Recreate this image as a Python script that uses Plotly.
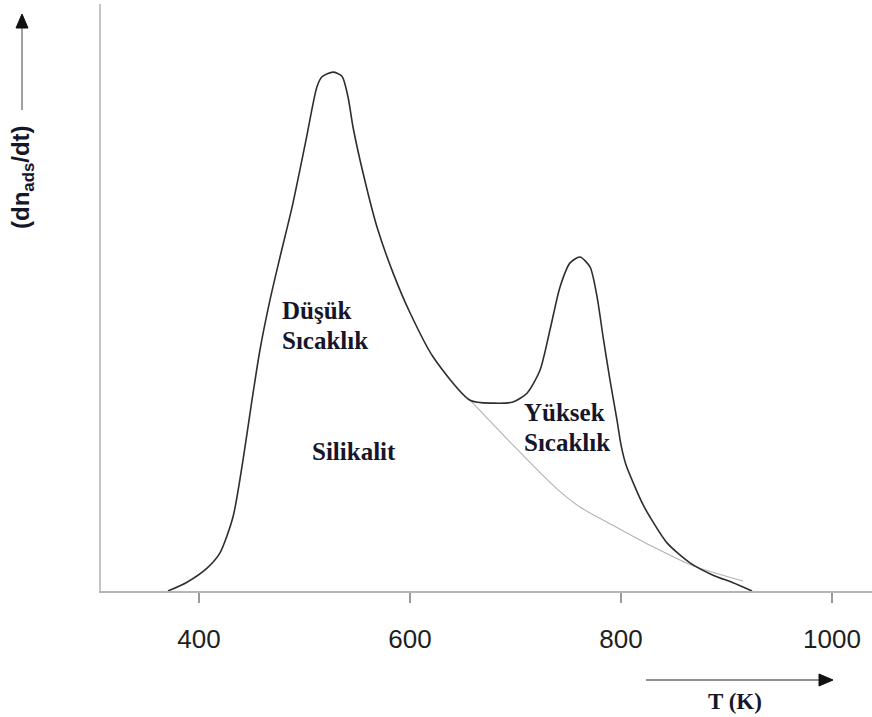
import plotly.graph_objects as go

# Temperature (K) and desorption rate (arbitrary units)
t_main = [370.6, 388.6, 407.6, 419.9, 432.2, 441.7, 450.2, 457.8, 467.3, 476.8,
          488.2, 501.4, 511.8, 516.6, 527.0, 535.5, 541.2, 546.0, 555.5, 568.7,
          583.9, 600.0, 621.8, 656.9, 678.7, 697.6, 710.9, 723.2, 732.7, 742.2,
          751.7, 761.1, 770.6, 777.3, 783.0, 789.6, 796.2, 800.0, 804.7, 813.3,
          820.9, 827.5, 843.6, 865.4, 887.2, 906.2, 924.2]
r_main = [0.0, 1.5, 3.9, 6.5, 12.6, 22.3, 32.5, 41.1, 49.6, 56.9,
          65.4, 76.8, 85.9, 87.6, 88.4, 87.7, 84.2, 79.0, 71.2, 62.0,
          54.2, 47.4, 39.9, 32.5, 32.0, 32.2, 33.7, 37.6, 44.5, 51.8,
          55.9, 56.9, 55.2, 50.1, 43.3, 35.9, 29.1, 24.9, 21.5, 17.7,
          14.7, 12.6, 8.2, 4.8, 2.7, 1.4, 0.0]

# low-temperature (silicalite) peak tail continuing under the high-T peak
t_tail = [656.9, 699.5, 737.4, 761.1, 792.4, 827.5, 868.2, 915.6]
r_tail = [32.5, 24.5, 17.7, 14.3, 11.2, 7.8, 4.3, 1.7]

x_ticks = [400, 600, 800, 1000]
x_range = [307.1, 1037.9]
y_range = [0, 100]

fig = go.Figure()
fig.add_trace(go.Scatter(x=t_tail, y=r_tail, mode="lines",
                         line=dict(color="#b3b3b3", width=1.1, shape="spline", smoothing=0.8),
                         hoverinfo="skip", showlegend=False))
fig.add_trace(go.Scatter(x=t_main, y=r_main, mode="lines",
                         line=dict(color="#2e2e2e", width=1.6, shape="spline", smoothing=0.7),
                         hoverinfo="skip", showlegend=False))

serif = "Liberation Serif"
txt_col = "#16162a"
labels = [
    ("<b>Düşük</b>", 280, 310),
    ("<b>Sıcaklık</b>", 280, 340),
    ("<b>Silikalit</b>", 310, 451),
    ("<b>Yüksek</b>", 522, 412),
    ("<b>Sıcaklık</b>", 522, 442),
]

W, H = 872, 717
L, R, T, B = 101, 0, 4, 126
pw, ph = W - L - R, H - T - B


def px(xp):
    return (xp - L) / pw


def py(yp):
    return (H - B - yp) / ph


annotations = []
for text, xp, yp in labels:
    annotations.append(dict(text=text, x=px(xp), y=py(yp), xref="paper", yref="paper",
                            xanchor="left", yanchor="middle", showarrow=False,
                            font=dict(family=serif, size=25, color=txt_col)))

annotations.append(dict(text="<b>T (K)</b>", x=px(735), y=py(701), xref="paper", yref="paper",
                        xanchor="center", yanchor="middle", showarrow=False,
                        font=dict(family=serif, size=23, color=txt_col)))
annotations.append(dict(text="<b>(dn<sub>ads</sub>/dt)</b>", x=px(22), y=py(177),
                        xref="paper", yref="paper", textangle=-90,
                        xanchor="center", yanchor="middle", showarrow=False,
                        font=dict(family="Liberation Sans", size=24, color=txt_col)))

shapes = [
    # y arrow
    dict(type="line", xref="paper", yref="paper", x0=px(22), x1=px(22), y0=py(110), y1=py(26),
         line=dict(color="#8a8a8a", width=1.6)),
    dict(type="path", xref="paper", yref="paper",
         path=f"M {px(22)} {py(14)} L {px(16)} {py(28)} L {px(28)} {py(28)} Z",
         fillcolor="#111", line=dict(color="#111", width=1)),
    # x arrow
    dict(type="line", xref="paper", yref="paper", x0=px(646), x1=px(820), y0=py(680), y1=py(680),
         line=dict(color="#6a6a6a", width=1.6)),
    dict(type="path", xref="paper", yref="paper",
         path=f"M {px(833)} {py(680)} L {px(819)} {py(674)} L {px(819)} {py(686)} Z",
         fillcolor="#111", line=dict(color="#111", width=1)),
]

fig.update_layout(
    width=W, height=H,
    margin=dict(l=L, r=R, t=T, b=B, pad=0),
    paper_bgcolor="white", plot_bgcolor="white",
    showlegend=False,
    annotations=annotations,
    shapes=shapes,
    xaxis=dict(range=x_range, tickvals=x_ticks, ticktext=[str(v) for v in x_ticks],
               showgrid=False, zeroline=False, showline=True, linecolor="#b5b5b5", linewidth=2,
               ticks="outside", ticklen=10, tickwidth=1.5, tickcolor="#9a9a9a",
               ticklabelstandoff=14,
               tickfont=dict(family="Liberation Sans", size=26, color="#1e1e1e")),
    yaxis=dict(range=y_range, showgrid=False, zeroline=False, showline=True,
               linecolor="#c4c4c4", linewidth=2, showticklabels=False, ticks=""),
)

fig.write_html("out.html")
